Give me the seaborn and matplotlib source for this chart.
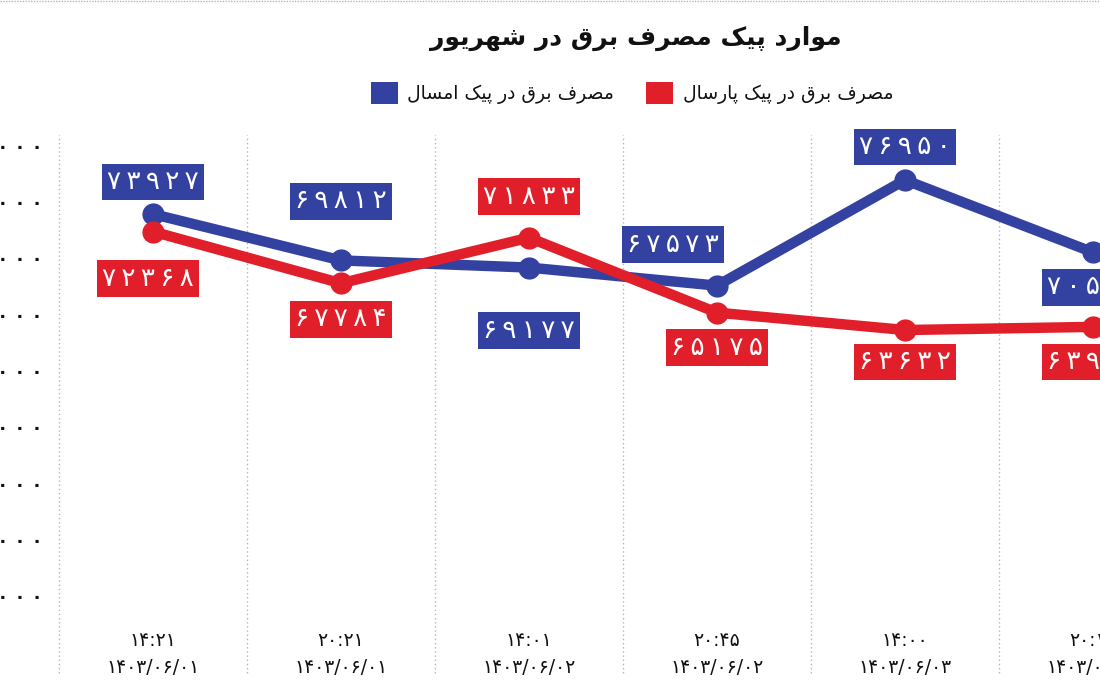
import numpy as np
import pandas as pd
import matplotlib
matplotlib.use("Agg")
import matplotlib.pyplot as plt
from matplotlib.patches import Patch
from matplotlib.lines import Line2D
import seaborn as sns

# ---------------- data ----------------
times = ["14:21", "20:21", "14:01", "20:45", "14:00", "20:15"]
dates = ["1403/06/01", "1403/06/01", "1403/06/02", "1403/06/02", "1403/06/03", "1403/06/03"]
this_year = [73927, 69812, 69177, 67573, 76950, 70530]
last_year = [72368, 67784, 71833, 65175, 63632, 63910]
y_ticks = [40000, 45000, 50000, 55000, 60000, 65000, 70000, 75000, 80000]

title_fa = "موارد پیک مصرف برق در شهریور"
name_this = "مصرف برق در پیک امسال"
name_last = "مصرف برق در پیک پارسال"

BLUE = "#3341a0"
RED = "#e11f2b"

# ---------------- Persian helpers ----------------
FA_DIGITS = str.maketrans("0123456789", "۰۱۲۳۴۵۶۷۸۹")


def fa_num(s, sep=""):
    return sep.join(str(s).translate(FA_DIGITS))


FORMS = {
    'ا': ('\uFE8D', '\uFE8E', None, None),
    'ب': ('\uFE8F', '\uFE90', '\uFE91', '\uFE92'),
    'پ': ('\uFB56', '\uFB57', '\uFB58', '\uFB59'),
    'د': ('\uFEA9', '\uFEAA', None, None),
    'ر': ('\uFEAD', '\uFEAE', None, None),
    'س': ('\uFEB1', '\uFEB2', '\uFEB3', '\uFEB4'),
    'ش': ('\uFEB5', '\uFEB6', '\uFEB7', '\uFEB8'),
    'ص': ('\uFEB9', '\uFEBA', '\uFEBB', '\uFEBC'),
    'ف': ('\uFED1', '\uFED2', '\uFED3', '\uFED4'),
    'ق': ('\uFED5', '\uFED6', '\uFED7', '\uFED8'),
    'ک': ('\uFB8E', '\uFB8F', '\uFB90', '\uFB91'),
    'ل': ('\uFEDD', '\uFEDE', '\uFEDF', '\uFEE0'),
    'م': ('\uFEE1', '\uFEE2', '\uFEE3', '\uFEE4'),
    'ه': ('\uFEE9', '\uFEEA', '\uFEEB', '\uFEEC'),
    'و': ('\uFEED', '\uFEEE', None, None),
    'ی': ('\uFBFC', '\uFBFD', '\uFBFE', '\uFBFF'),
}


def fa(text):
    out = []
    for i, ch in enumerate(text):
        if ch not in FORMS:
            out.append(ch)
            continue
        prev = text[i - 1] if i > 0 else None
        nxt = text[i + 1] if i + 1 < len(text) else None
        jp = prev in FORMS and FORMS[prev][2] is not None
        jn = nxt in FORMS and FORMS[ch][2] is not None
        iso, fin, ini, med = FORMS[ch]
        if jp and jn:
            out.append(med)
        elif jp:
            out.append(fin)
        elif jn:
            out.append(ini)
        else:
            out.append(iso)
    return "".join(reversed(out))


# ---------------- frame ----------------
slots = [fa_num(t) + "\n" + fa_num(d) for t, d in zip(times, dates)]
df = pd.concat([
    pd.DataFrame({"slot": slots, "value": this_year, "series": "this"}),
    pd.DataFrame({"slot": slots, "value": last_year, "series": "last"}),
])

sns.set_theme(style="white")
plt.rcParams["font.family"] = ["DejaVu Sans"]

fig = plt.figure(figsize=(11, 6.89), dpi=100)
ax = fig.add_axes([59 / 1100, 1 - 625 / 689, 1128 / 1100, 490 / 689])

sns.lineplot(data=df, x="slot", y="value", hue="series", hue_order=["this", "last"],
             palette={"this": BLUE, "last": RED}, sort=False, legend=False,
             marker="o", markersize=16, markeredgewidth=0, linewidth=7.5, ax=ax)

ax.set_xlim(-0.5, 5.5)
ax.set_ylim(37441, 80947)
ax.set_yticks(y_ticks)
ax.set_yticklabels([fa_num(v, " ") for v in y_ticks], fontsize=13, color="#111111",
                   fontweight="bold")
ax.set_xlabel("")
ax.set_ylabel("")
ax.tick_params(axis="x", length=0, pad=4, labelsize=13.5, labelcolor="#111111")
ax.tick_params(axis="y", length=0, pad=12)
for lab in ax.get_xticklabels():
    lab.set_linespacing(1.55)
for s in ax.spines.values():
    s.set_visible(False)
ax.grid(False)

# dotted separators
ax.vlines(np.arange(-0.5, 6.0, 1.0), -0.098, 1.0, transform=ax.get_xaxis_transform(),
          colors="#b5b5b5", linestyles=(0, (1, 2)), linewidth=1, clip_on=False, zorder=0)

# value labels
off_this = [(0, 32), (0, 59), (0, -63), (-44, 41), (0, 33), (0, -35)]
off_last = [(-5, -47), (0, -36), (0, 41), (0, -35), (0, -32), (0, -35)]
for vals, offs, col in [(this_year, off_this, BLUE), (last_year, off_last, RED)]:
    for i, (v, o) in enumerate(zip(vals, offs)):
        ax.annotate(fa_num(v, "\u2009"), (i, v), xytext=o, textcoords="offset pixels",
                    ha="center", va="center", color="white", fontsize=19,
                    bbox=dict(boxstyle="square,pad=0.2", fc=col, ec="none"),
                    annotation_clip=False, zorder=5)

# title and legend
fig.text(636 / 1100, 1 - 38 / 689, fa(title_fa), ha="center", va="center",
         fontsize=18, fontweight="bold", color="#111111")
handles = [Patch(facecolor=BLUE, edgecolor="none"), Patch(facecolor=RED, edgecolor="none")]
fig.legend(handles, [fa(name_this), fa(name_last)], ncol=2, loc="center",
           bbox_to_anchor=(632 / 1100, 1 - 93 / 689), frameon=False, fontsize=13.5,
           handlelength=1.45, handleheight=1.45, handletextpad=0.5, columnspacing=1.7,
           labelcolor="#111111")

# top dotted border
fig.add_artist(Line2D([0, 1], [1 - 1 / 689, 1 - 1 / 689], transform=fig.transFigure,
                      color="#b5b5b5", linestyle=(0, (1, 1)), linewidth=1))

fig.savefig("out.png", dpi=100)
